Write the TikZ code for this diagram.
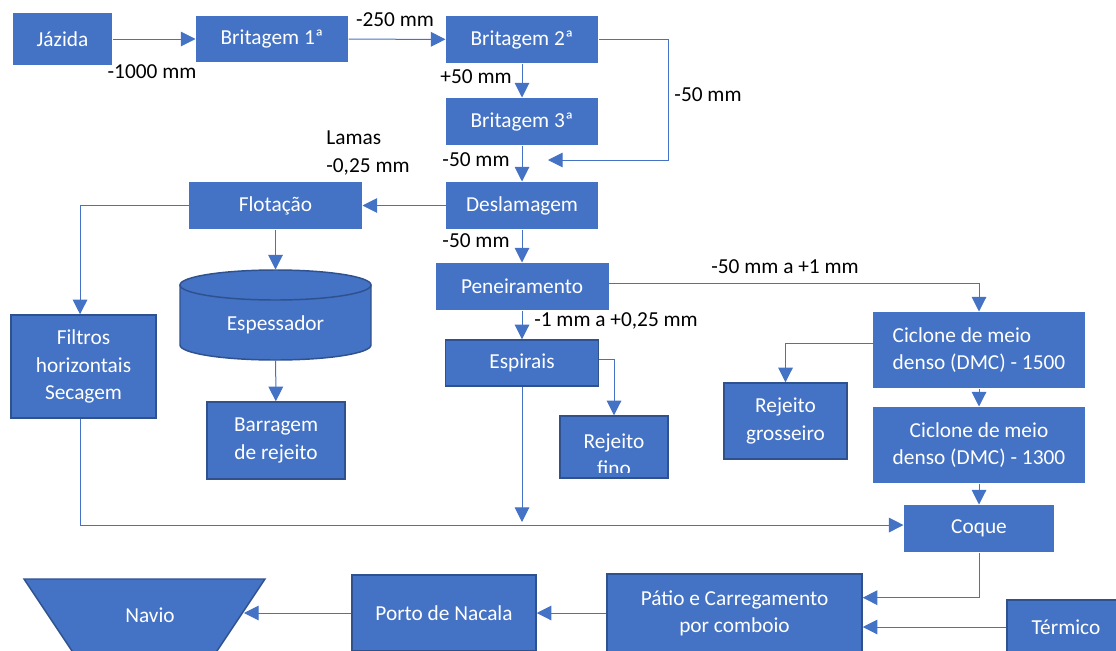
\documentclass[tikz,border=0pt]{standalone}
\usepackage{fontspec}
\setmainfont{Carlito}
\usetikzlibrary{arrows.meta}
\definecolor{boxblue}{RGB}{68,114,196}
\definecolor{edgeblue}{RGB}{47,82,143}
\tikzset{every picture/.style={line width=0.75pt}}
\tikzset{
  proc/.style={fill=boxblue, text=white, inner sep=0.75pt, align=center, font=\fontsize{16}{20.5}\selectfont},
  procb/.style={proc, draw=edgeblue, line width=1.1pt},
  lbl/.style={inner sep=0.75pt, font=\fontsize{16}{20.5}\selectfont},
  flow/.style={draw=boxblue, line width=0.75pt, -{Triangle[length=11pt,width=11pt]}},
  cyl/.style={fill=boxblue, draw=edgeblue, line width=1.1pt}
}

\begin{document}
\begin{tikzpicture}[x=0.75pt,y=0.75pt,yscale=-1,xscale=1]
\useasboundingbox (0,0) rectangle (1116,650);

%Boxes: crushing line
\node [proc, minimum width=74.25pt, minimum height=39pt] (jazida) at (62.5,39) {Jázida};
\node [proc, minimum width=114pt, minimum height=34.5pt] (brit1) at (272,39) {Britagem 1ª};
\node [proc, minimum width=114pt, minimum height=35.25pt] (brit2) at (522,39.5) {Britagem 2ª};
\node [proc, minimum width=114pt, minimum height=35.25pt] (brit3) at (522,121.5) {Britagem 3ª};
\node [proc, minimum width=114pt, minimum height=35.25pt] (deslam) at (522,205.5) {Deslamagem};
\node [proc, minimum width=129.75pt, minimum height=35.25pt] (flot) at (275.5,205.5) {Flotação};
\node [procb, minimum width=108.75pt, minimum height=77.25pt] (filtros) at (83.5,366.5) {Filtros\\horizontais\\Secagem};

%Shape: Cylinder
\node [inner sep=0pt, minimum width=143.25pt, minimum height=67.5pt] (espess) at (275.5,315) {};
\draw [cyl] (180,285) -- (180,345) arc [start angle=180, end angle=0, x radius=95.5, y radius=15] -- (371,285);
\draw [cyl] (275.5,285) ellipse [x radius=95.5, y radius=15];
\node [proc, fill=none] (espesstxt) at (275.5,325) {Espessador};

\node [procb, minimum width=103.5pt, minimum height=57.75pt] (barragem) at (276,440.5) {Barragem\\de rejeito};
\node [proc, minimum width=129.75pt, minimum height=35.25pt] (peneir) at (522,286.5) {Peneiramento};
\node [procb, minimum width=114.75pt, minimum height=34.5pt] (espirais) at (522,363) {Espirais};
\node [procb, minimum width=81pt, minimum height=46.5pt] (rejfino) at (614,447) {};
\begin{scope}
\clip (561,417) rectangle (667,472);
\node [proc, fill=none] (rejfinotxt) at (614,455) {Rejeito\\fino};
\end{scope}
\node [proc, align=left, minimum width=159pt, minimum height=57pt] (cicl1500) at (979,350) {Ciclone de meio\\denso (DMC) - 1500};
\node [procb, minimum width=92.25pt, minimum height=57pt] (rejgros) at (785.5,421) {Rejeito\\grosseiro};
\node [proc, minimum width=159pt, minimum height=57pt] (cicl1300) at (979,445) {Ciclone de meio\\denso (DMC) - 1300};
\node [proc, minimum width=112.5pt, minimum height=35.25pt] (coque) at (979,528.5) {Coque};

%Boxes: shipping
\node [procb, minimum width=191.25pt, minimum height=58.5pt] (patio) at (734.5,613) {Pátio e Carregamento\\por comboio};
\node [procb, minimum width=88.5pt, minimum height=40.5pt] (termico) at (1066,627) {Térmico};
\node [procb, minimum width=138pt, minimum height=57pt] (porto) at (444,613) {Porto de Nacala};
%Shape: Trapezoid
\draw [cyl] (24,579) -- (265,579) -- (211,660) -- (78,660) -- cycle;
\node [proc, fill=none] (navio) at (150,615) {Navio};
\coordinate (navioe) at (244,613);

%Connectors
\draw [flow] (jazida) -- (brit1);
\draw [flow] (brit1) -- (brit2);
\draw [flow] (brit2) -- (brit3);
\coordinate (retorno) at (548,160);
\draw [flow] (brit2.east) -- ++(70,0) |- (retorno);
\draw [flow] (brit3) -- (deslam);
\draw [flow] (deslam) -- (flot);
\draw [flow] (deslam) -- (peneir);
\draw [flow] (flot.west) -| ([xshift=-2.6pt]filtros.north);
\draw [flow] (flot) -- (espess);
\draw [flow] (espess) -- (barragem);
\draw [flow] (peneir) -- (espirais);
\draw [flow] ([yshift=-2.6pt]peneir.east) -| (cicl1500.north);
\draw [flow] ([yshift=-2.3pt]espirais.east) -| (rejfino.north);
\coordinate (juncao) at (522,522);
\draw [flow] (espirais) -- (juncao);
\draw [flow] ([xshift=-2.6pt]filtros.south) |- ([yshift=-2.6pt]coque.west);
\draw [flow] ([yshift=-5pt]cicl1500.west) -| (rejgros.north);
\draw [flow] (cicl1500) -- (cicl1300);
\draw [flow] (cicl1300) -- (coque);
\draw [flow] (coque.south) |- ([yshift=-11.5pt]patio.east);
\draw [flow] (termico.west) -- (termico.west -| patio.east);
\draw [flow] (patio) -- (porto);
\draw [flow] (porto) -- (navioe);

% Text Node
\node [lbl] (l1000) at (152,72) {-1000 mm};
% Text Node
\node [lbl] (l250) at (395,20) {-250 mm};
% Text Node
\node [lbl] (l50a) at (476,77) {+50 mm};
% Text Node
\node [lbl] (l50b) at (708,95) {-50 mm};
% Text Node
\node [lbl] (l50c) at (476,160) {-50 mm};
% Text Node
\node [lbl, align=left] (llamas) at (368,153) {Lamas\\-0,25 mm};
% Text Node
\node [lbl] (l50d) at (476,241) {-50 mm};
% Text Node
\node [lbl] (lfino) at (616,321) {-1 mm a +0,25 mm};
% Text Node
\node [lbl] (lgros) at (785,267) {-50 mm a +1 mm};

\end{tikzpicture}
\end{document}
